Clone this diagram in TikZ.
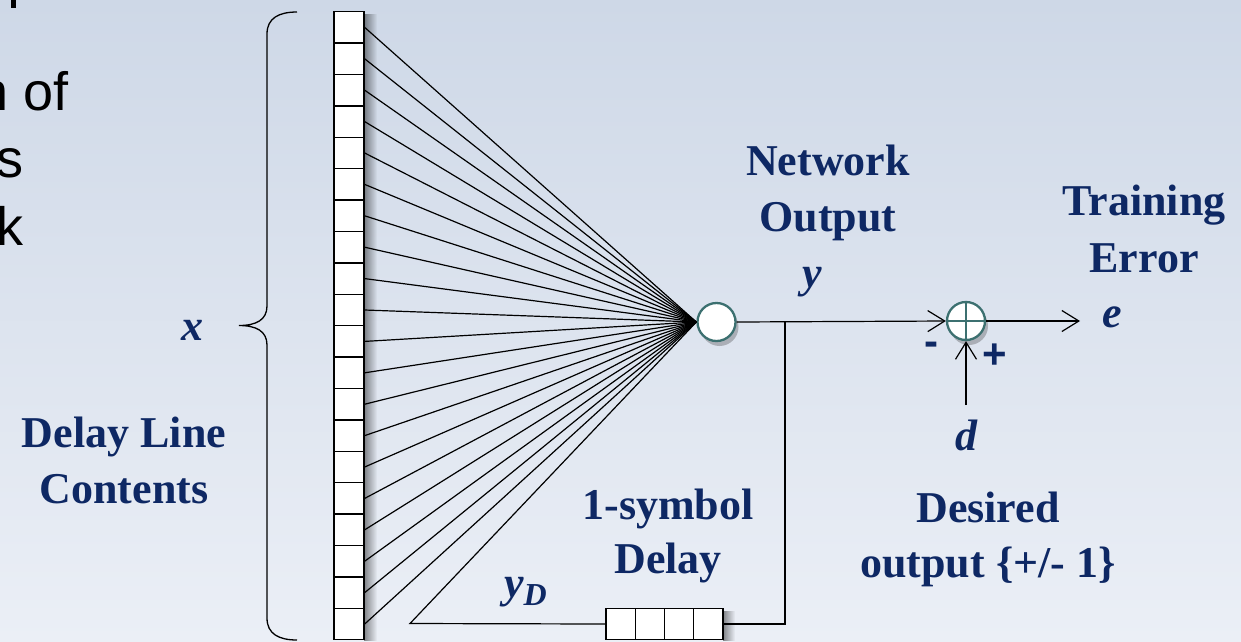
\documentclass[tikz,border=0pt]{standalone}
\usepackage{fontspec}
\setmainfont{Liberation Serif}
\newfontfamily\sansf{Liberation Sans}
\usetikzlibrary{arrows.meta,shadows,fadings}
\definecolor{navy}{RGB}{14,40,100}
\definecolor{tealc}{RGB}{60,112,112}
\definecolor{bgtop}{RGB}{206,216,231}
\definecolor{bgbot}{RGB}{235,239,246}
\tikzset{
  lbl/.style={text=navy, inner sep=0pt, anchor=base, font=\fontsize{44}{44}\selectfont\bfseries},
  var/.style={text=navy, inner sep=0pt, anchor=base, font=\fontsize{44}{44}\selectfont\bfseries\itshape},
  sgn/.style={text=navy, inner sep=0pt, anchor=base, font=\fontsize{42}{42}\selectfont\sansf\bfseries},
  slide/.style={text=black, inner sep=0pt, anchor=base west, font=\fontsize{54}{54}\selectfont\sansf},
  cell/.style={draw=black, fill=white, line width=1.4pt, minimum width=30pt, minimum height=31.4pt, inner sep=0pt},
  dcell/.style={draw=black, fill=white, line width=1.4pt, minimum width=29.25pt, minimum height=31pt, inner sep=0pt},
  junction/.style={circle, draw=tealc, fill=white, line width=2.3pt, minimum size=38pt, inner sep=0pt,
    drop shadow={shadow xshift=3pt, shadow yshift=-5pt, opacity=0.35, fill=black!70}},
  wire/.style={draw=black, line width=1.2pt},
  arr/.style={wire, -{Straight Barb[length=17pt,width=21pt,line width=1.2pt]}},
}
\begin{document}
\begin{tikzpicture}[x=1pt,y=-1pt]
\useasboundingbox (0,0) rectangle (1241,641);
\shade[top color=bgtop, bottom color=bgbot] (0,0) rectangle (1241,641);
\clip (0,0) rectangle (1241,641);
% clipped slide text at the left
\fill[black] (11,0) rectangle (16,8);
\node[slide] (t1) at (-22,110) {n of};
\node[slide] (t2) at (-4,177) {s};
\node[slide] (t3) at (-4,245) {k};
% brace
\draw[line width=1.3pt] (297,12) .. controls (279,12) and (267,18) .. (267,34)
  -- (267,306) .. controls (267,320) and (256,325.5) .. (239,325.5)
  .. controls (256,325.5) and (267,331) .. (267,345)
  -- (267,618) .. controls (267,634) and (279,640) .. (297,640);
% shadows of delay lines
\fill[black, path fading=east, opacity=0.45] (364,14) rectangle (377,641);
\fill[black, path fading=east, opacity=0.45] (723,611) rectangle (735,641);
% delay line cells
\foreach \i in {0,...,19}{
  \node[cell] (c\i) at (349,{27.4+31.4*\i}) {};
}
% neuron and summing junction
\node[junction] (n) at (716.5,322) {};
\node[junction] (s) at (966,321) {};
\draw[tealc, line width=2pt] (s.north) -- (s.south) (s.west) -- (s.east);
% fan-in connectors
\foreach \i in {0,...,19}{
  \draw[wire] (c\i.east) -- (n.west);
}
% 1-symbol delay
\foreach \j in {0,...,3}{
  \node[dcell] (b\j) at ({620.6+29.25*\j},624) {};
}
\coordinate (tap) at (785,322);
\coordinate (fb) at (410,623.5);
\coordinate (eend) at (1080,321);
\coordinate (dstart) at (966,405);
\draw[wire] (tap) |- (b3.east);
\draw[wire] (b0.west) -- (fb) -- (n.west);
\draw[arr] (n.east) -- (s.west);
\draw[arr] (s.east) -- (eend);
\draw[arr] (dstart) -- (s.south);
% labels
\node[var] (xl) at (192,340) {x};
\node[lbl] (dl1) at (124,447) {Delay Line};
\node[lbl] (dl2) at (124,503) {Contents};
\node[lbl] (no1) at (828,175) {Network};
\node[lbl] (no2) at (828,231) {Output};
\node[var] (yl) at (812,287) {y};
\node[lbl] (te1) at (1144,215) {Training};
\node[lbl] (te2) at (1144,272) {Error};
\node[var] (el) at (1112,327) {e};
\node[var] (dl) at (966,450) {d};
\node[lbl] (do1) at (988,522) {Desired};
\node[lbl] (do2) at (988,577) {output \{+/- 1\}};
\node[lbl] (sd1) at (668,519) {1-symbol};
\node[lbl] (sd2) at (668,573) {Delay};
\node[var, anchor=base west] (ydl) at (504,597) {y\raisebox{-8pt}{\fontsize{32}{32}\selectfont D}};
\node[sgn] (minus) at (931,355) {-};
\node[sgn] (plus) at (994.5,368) {+};
\end{tikzpicture}
\end{document}
